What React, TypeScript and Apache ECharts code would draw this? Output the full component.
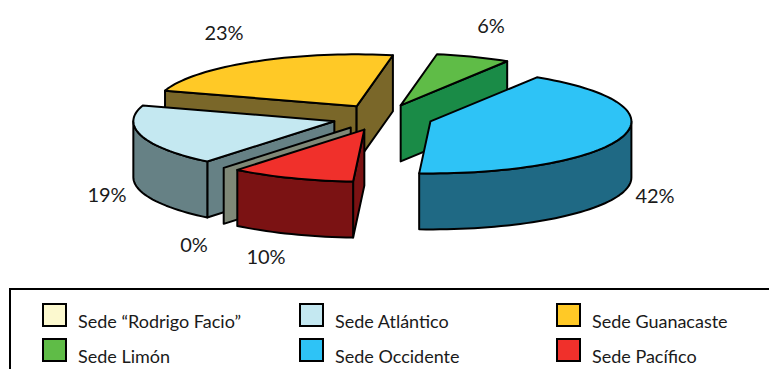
import React, { useEffect, useRef } from "react";
import * as echarts from "echarts";

// ---- data (clockwise from the start angle) ----
const sedes = ["Sede Occidente", "Sede Pacífico", "Sede “Rodrigo Facio”", "Sede Atlántico", "Sede Guanacaste", "Sede Limón"];
const percents = [42, 10, 0, 19, 23, 6];
const percentLabels = ["42%", "10%", "0%", "19%", "23%", "6%"];
const legendColumns = [
  ["Sede “Rodrigo Facio”", "Sede Limón"],
  ["Sede Atlántico", "Sede Occidente"],
  ["Sede Guanacaste", "Sede Pacífico"],
];

// ---- styles ----
const topColors = ["#2EC3F6", "#F0302B", "#FCF9CF", "#C4E8F1", "#FFC926", "#5FBC47"];
const wallColors = ["#1F6984", "#7B1213", "#7F8877", "#668185", "#7A6729", "#1A8B47"];
const drawOrder = [5, 4, 3, 2, 1, 0];
const labelAnchors = [[655, 195], [266, 256], [194, 244], [107, 194], [224, 32], [491, 25]];

// ---- projection of the pie ----
const CX = 382.5, CY = 117.5, RX = 201, RY = 52, DEPTH = 56, EXPLODE = 0.25, START = 32;
const FONT_FAMILY = "Lato, 'Open Sans', sans-serif";
const total = percents.reduce((a, b) => a + b, 0);

function rim(deg: number) {
  const t = (deg * Math.PI) / 180;
  return [RX * Math.sin(t), -RY * Math.cos(t)];
}

function arcPoints(ox: number, oy: number, a0: number, a1: number, dy = 0) {
  const n = Math.max(1, Math.ceil(Math.abs(a1 - a0) / 2));
  const pts: number[][] = [];
  for (let i = 0; i <= n; i++) {
    const p = rim(a0 + ((a1 - a0) * i) / n);
    pts.push([ox + p[0], oy + p[1] + dy]);
  }
  return pts;
}

function sliceRender(index: number) {
  return (_params: any, api: any) => {
    const value = api.value(0);
    const before = percents.slice(0, index).reduce((a, b) => a + b, 0);
    const a0 = START + (before / total) * 360;
    const a1 = a0 + (value / total) * 360;
    const mid = rim((a0 + a1) / 2);
    const ox = CX + EXPLODE * mid[0];
    const oy = CY + EXPLODE * mid[1];
    const wall = wallColors[index];
    const line = { stroke: "#000", lineWidth: 2, lineJoin: "round" };
    const children: any[] = [];
    const radial = (deg: number) => {
      const p = rim(deg);
      const q = [ox + p[0], oy + p[1]];
      children.push({
        type: "polygon",
        shape: { points: [[ox, oy], q, [q[0], q[1] + DEPTH], [ox, oy + DEPTH]] },
        style: { fill: wall, ...line },
      });
    };
    if (Math.sin((a0 * Math.PI) / 180) < 0) radial(a0);
    if (Math.sin((a1 * Math.PI) / 180) > 0) radial(a1);
    const v0 = Math.max(a0, 90);
    const v1 = Math.min(a1, 270);
    if (v1 > v0) {
      const upper = arcPoints(ox, oy, v0, v1);
      const lower = arcPoints(ox, oy, v1, v0, DEPTH);
      children.push({ type: "polygon", shape: { points: upper.concat(lower) }, style: { fill: wall, ...line } });
    }
    if (value > 0) {
      children.push({
        type: "polygon",
        shape: { points: [[ox, oy], ...arcPoints(ox, oy, a0, a1)] },
        style: { fill: topColors[index], ...line },
      });
    }
    children.push({
      type: "text",
      style: {
        text: percentLabels[index],
        x: labelAnchors[index][0],
        y: labelAnchors[index][1],
        fill: "#1a1a1a",
        font: `20px ${FONT_FAMILY}`,
        align: "center",
        verticalAlign: "middle",
      },
    });
    return { type: "group", children };
  };
}

const columnX = [42, 299, 556];

export default function App() {
  const ref = useRef<HTMLDivElement>(null);
  useEffect(() => {
    const chart = echarts.init(ref.current!, undefined, { renderer: "svg" });
    chart.setOption({
      animation: false,
      backgroundColor: "#fff",
      legend: legendColumns.map((names, c) => ({
        orient: "vertical",
        left: columnX[c],
        top: 303,
        padding: 0,
        itemGap: 8,
        itemWidth: 23,
        itemHeight: 22,
        selectedMode: false,
        data: names.map((name) => {
          const i = sedes.indexOf(name);
          return {
            name,
            icon: "rect",
            itemStyle: { color: topColors[i], borderColor: "#000", borderWidth: 2 },
          };
        }),
        formatter: (name: string) => `{t|${name}}`,
        textStyle: {
          color: "#1a1a1a",
          rich: {
            t: { fontFamily: FONT_FAMILY, fontSize: 18, color: "#1a1a1a", padding: [12, 0, 0, 7] },
          },
        },
      })),
      graphic: [
        {
          type: "rect",
          shape: { x: 10, y: 289, width: 800, height: 120 },
          style: { fill: "none", stroke: "#000", lineWidth: 2 },
          silent: true,
        },
      ],
      series: drawOrder.map((i) => ({
        type: "custom",
        name: sedes[i],
        coordinateSystem: "none",
        silent: true,
        renderItem: sliceRender(i),
        data: [[percents[i]]],
      })),
    });
    return () => chart.dispose();
  }, []);
  return (
    <div style={{ position: "absolute", left: 0, top: 0, width: 769, height: 369, overflow: "hidden" }}>
      <div ref={ref} style={{ width: 769, height: 440 }} />
    </div>
  );
}
